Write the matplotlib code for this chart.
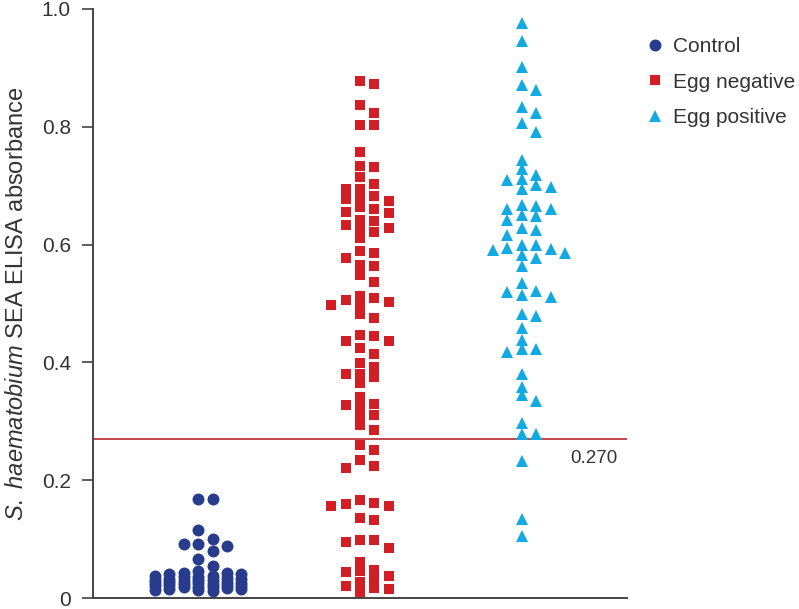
import matplotlib
matplotlib.use('Agg')
import matplotlib.pyplot as plt
import numpy as np

plt.rcParams['font.family'] = ['Liberation Sans', 'DejaVu Sans']
plt.rcParams['mathtext.fontset'] = 'custom'
plt.rcParams['mathtext.it'] = 'Liberation Sans:italic'
plt.rcParams['mathtext.rm'] = 'Liberation Sans'

categories = ['Control', 'Egg negative', 'Egg positive']

control = [0.168, 0.168, 0.116, 0.100, 0.092, 0.092, 0.088, 0.079, 0.066, 0.055,
           0.045, 0.043, 0.042, 0.040, 0.040, 0.038, 0.037, 0.036, 0.035, 0.034,
           0.033, 0.032, 0.031, 0.030, 0.030, 0.029, 0.028, 0.027, 0.026, 0.026,
           0.025, 0.024, 0.023, 0.022, 0.022, 0.021, 0.020, 0.019, 0.018, 0.018,
           0.017, 0.016, 0.015, 0.014, 0.013, 0.012]

egg_negative = [0.878, 0.873, 0.837, 0.824, 0.803, 0.803, 0.757, 0.734, 0.732, 0.715,
                0.703, 0.695, 0.695, 0.682, 0.678, 0.664, 0.674, 0.680, 0.655, 0.661,
                0.653, 0.640, 0.626, 0.633, 0.641, 0.622, 0.629, 0.612, 0.589, 0.577,
                0.586, 0.563, 0.566, 0.548, 0.537, 0.509, 0.502, 0.498, 0.498, 0.506,
                0.512, 0.483, 0.476, 0.445, 0.447, 0.436, 0.436, 0.425, 0.415, 0.399,
                0.393, 0.380, 0.380, 0.376, 0.365, 0.341, 0.327, 0.327, 0.329, 0.311,
                0.311, 0.294, 0.286, 0.260, 0.251, 0.235, 0.221, 0.224, 0.161, 0.157,
                0.156, 0.159, 0.167, 0.133, 0.136, 0.098, 0.095, 0.085, 0.098, 0.061,
                0.044, 0.027, 0.037, 0.017, 0.032, 0.010, 0.045, 0.016, 0.047, 0.020]

egg_positive = [0.976, 0.946, 0.901, 0.871, 0.863, 0.833, 0.824, 0.806, 0.792, 0.743,
                0.728, 0.718, 0.711, 0.702, 0.709, 0.698, 0.694, 0.660, 0.668, 0.666,
                0.660, 0.651, 0.649, 0.641, 0.629, 0.624, 0.616, 0.600, 0.592, 0.586,
                0.590, 0.582, 0.594, 0.600, 0.577, 0.564, 0.534, 0.521, 0.515, 0.511,
                0.520, 0.479, 0.482, 0.459, 0.438, 0.423, 0.417, 0.423, 0.381, 0.359,
                0.335, 0.344, 0.297, 0.279, 0.279, 0.232, 0.134, 0.106]

cutoff = 0.270
cutoff_label = '0.270'
yticks = [0, 0.2, 0.4, 0.6, 0.8, 1.0]
ytick_labels = ['0', '0.2', '0.4', '0.6', '0.8', '1.0']


def swarm_offsets(values, sep, step, max_col):
    values = np.asarray(values, dtype=float)
    order = np.argsort(-values, kind='stable')
    candidates = [0]
    for k in range(1, max_col + 1):
        candidates += [k, -k]
    cols = {}
    offsets = np.zeros(len(values))
    for i in order:
        v = values[i]
        best, best_gap = None, -1.0
        for c in candidates:
            placed = cols.get(c, [])
            gap = min([abs(v - p) for p in placed], default=np.inf)
            if gap >= sep:
                best = c
                break
            if gap > best_gap:
                best_gap, best = gap, c
        cols.setdefault(best, []).append(v)
        offsets[i] = best * step
    return offsets


fig = plt.figure(figsize=(7.99, 6.09), dpi=100)
ax = fig.add_axes([93 / 799, 11 / 609, 534 / 799, 589 / 609])

step = 0.089
groups = [
    (control, 'o', '#283C8E', 8.6, 0.020, 3),
    (egg_negative, 's', '#D21F26', 7.2, 0.014, 3),
    (egg_positive, '^', '#13A9E1', 9.2, 0.015, 3),
]
for i, (vals, mk, col, ms, sep, mc) in enumerate(groups):
    off = swarm_offsets(vals, sep, step, mc)
    ax.plot(i + off, vals, linestyle='none', marker=mk, color=col,
            markersize=ms, markeredgewidth=0, label=categories[i], clip_on=False)

ax.axhline(cutoff, color='#B8292F', linewidth=1.2, zorder=0.5)
ax.text(2.594, 0.236, cutoff_label, ha='right', va='center', fontsize=13.5,
        color='#333333')

ax.set_xlim(-0.65, 2.65)
ax.set_ylim(0, 1.0)
ax.set_xticks([])
ax.set_yticks(yticks)
ax.set_yticklabels(ytick_labels)
ax.tick_params(axis='y', direction='out', length=8, width=1.1, colors='#333333',
               labelsize=15, pad=8)
for s in ['top', 'right']:
    ax.spines[s].set_visible(False)
for s in ['left', 'bottom']:
    ax.spines[s].set_color('#444444')
    ax.spines[s].set_linewidth(1.4)

ax.set_ylabel(r'$\it{S.\ haematobium}$ SEA ELISA absorbance', fontsize=17,
              color='#333333', labelpad=10)

fig.legend(loc='upper left', bbox_to_anchor=(645 / 799, 1 - 37 / 609),
           frameon=False, fontsize=15, handletextpad=0.35, labelspacing=0.8,
           handlelength=1.0, borderaxespad=0, borderpad=0, labelcolor='#333333')

fig.savefig('out.png', dpi=100)
